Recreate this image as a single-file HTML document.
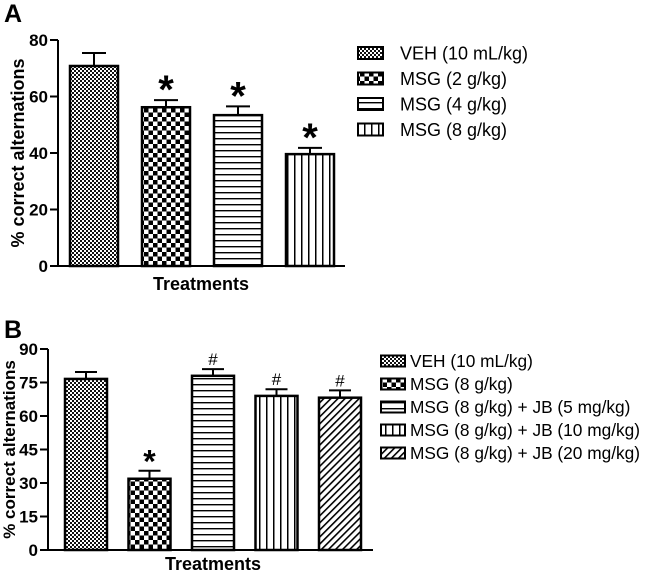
<!DOCTYPE html>
<html><head><meta charset="utf-8"><style>
html,body{margin:0;padding:0;background:#fff;}
svg{display:block;font-family:"Liberation Sans",Arial,sans-serif;}
</style></head><body>
<svg id="chart" width="646" height="577" viewBox="0 0 646 577">
<defs>
<pattern id="p0" width="4" height="4" patternUnits="userSpaceOnUse"><rect width="4" height="4" fill="#fff"/><rect width="2" height="2" fill="#111"/><rect x="2" y="2" width="2" height="2" fill="#111"/></pattern>
<pattern id="p1" width="9" height="9" patternUnits="userSpaceOnUse"><rect width="9" height="9" fill="#fff"/><rect width="4.5" height="4.5" fill="#000"/><rect x="4.5" y="4.5" width="4.5" height="4.5" fill="#000"/></pattern>
<pattern id="p2" width="6" height="6" patternUnits="userSpaceOnUse"><rect width="6" height="6" fill="#fff"/><rect y="0" width="6" height="1.4" fill="#000"/></pattern>
<pattern id="p3" width="7" height="7" patternUnits="userSpaceOnUse"><rect width="7" height="7" fill="#fff"/><rect x="0" width="1.5" height="7" fill="#000"/></pattern>
<pattern id="p4" width="5" height="5" patternUnits="userSpaceOnUse" patternTransform="rotate(45)"><rect width="5" height="5" fill="#fff"/><rect width="1.6" height="5" fill="#000"/></pattern>
</defs>
<text x="4" y="22" font-size="25" font-weight="bold">A</text>
<text x="4" y="338" font-size="25" font-weight="bold">B</text>
<g id="ga"></g><g id="gb"></g>
</svg>
<script>
const NS="http://www.w3.org/2000/svg";
// Panel A data
const catsA=["VEH (10 mL/kg)","MSG (2 g/kg)","MSG (4 g/kg)","MSG (8 g/kg)"];
const valsA=[70.8,56.2,53.4,39.6];
const errA=[4.6,2.5,3.1,2.2];
const sigA=["","*","*","*"];
const ticksA=[0,20,40,60,80];
// Panel B data
const catsB=["VEH (10 mL/kg)","MSG (8 g/kg)","MSG (8 g/kg) + JB (5 mg/kg)","MSG (8 g/kg) + JB (10 mg/kg)","MSG (8 g/kg) + JB (20 mg/kg)"];
const valsB=[76.6,31.9,78.0,69.0,68.2];
const errB=[3.1,3.6,3.0,3.0,3.3];
const sigB=["","*","#","#","#"];
const ticksB=[0,15,30,45,60,75,90];

function mk(p,tag,a,txt){const e=document.createElementNS(NS,tag);for(const k in a)e.setAttribute(k,a[k]);if(txt!==undefined)e.textContent=txt;p.appendChild(e);return e;}

function panel(g,o){
  const y=v=>o.y0-(v-0)/(o.max)*(o.y0-o.yTop);
  const ax=mk(g,'line',{x1:o.ax,y1:o.yTop,x2:o.ax,y2:o.y0+1,stroke:'#000','stroke-width':2});
  
  const xa=mk(g,'line',{x1:o.ax-1,y1:o.y0,x2:o.xEnd,y2:o.y0,stroke:'#000','stroke-width':2});
  
  o.ticks.forEach(t=>{
    const l=mk(g,'line',{x1:o.ax-8,y1:y(t),x2:o.ax,y2:y(t),stroke:'#000','stroke-width':2});
    
    const tx=mk(g,'text',{x:o.ax-10,y:y(t)+6,'text-anchor':'end','font-size':17,'font-weight':'bold'},t);
    
  });
  const yt=mk(g,'text',{x:0,y:0,transform:`translate(${o.titleX},${(o.yTop+o.y0)/2}) rotate(-90)`,'text-anchor':'middle','font-size':o.titleFs,'font-weight':'bold'},'% correct alternations');
  
  const xt=mk(g,'text',{x:o.xtX,y:o.xtY,'text-anchor':'middle','font-size':18,'font-weight':'bold'},'Treatments');
  
  o.vals.forEach((v,i)=>{
    const x0=o.x0+i*o.step, cx=x0+o.bw/2;
    const et=y(v+o.err[i]);
    const e1=mk(g,'line',{x1:cx,y1:y(v),x2:cx,y2:et,stroke:'#000','stroke-width':2});
    
    const e2=mk(g,'line',{x1:cx-o.cap,y1:et,x2:cx+o.cap,y2:et,stroke:'#000','stroke-width':2});
    
    const r=mk(g,'rect',{x:x0,y:y(v),width:o.bw,height:o.y0-y(v),fill:`url(#p${o.pat[i]})`,stroke:'#000','stroke-width':2.5});
    
    if(o.sig[i]){
      const star=o.sig[i]=='*';
      const s=mk(g,'text',{x:cx,y:star?et+o.starOff:et-4,'text-anchor':'middle','font-size':star?o.starSize:17,'font-weight':star?'bold':'normal'},o.sig[i]);
      
    }
  });
  o.cats.forEach((c,i)=>{
    const ly=o.ly+i*o.lstep;
    const sw=mk(g,'rect',{x:o.lx,y:ly-o.sh/2,width:o.sw,height:o.sh,fill:`url(#p${o.pat[i]})`,stroke:'#000','stroke-width':2});
    
    const t=mk(g,'text',{x:o.ltx,y:ly+o.lfs*0.36,'font-size':o.lfs},c);
    
  });
}
panel(document.getElementById('ga'),{vals:valsA,err:errA,sig:sigA,cats:catsA,ticks:ticksA,max:80,y0:266,yTop:40,ax:58,xEnd:345,
  x0:70,step:72,bw:48,cap:12,pat:[0,1,2,3],titleX:24,titleFs:18,xtX:201,xtY:290,starSize:40,starOff:3,
  lx:358,ly:53,lstep:25.5,sw:25,sh:12,ltx:400,lfs:18});
panel(document.getElementById('gb'),{vals:valsB,err:errB,sig:sigB,cats:catsB,ticks:ticksB,max:90,y0:550,yTop:349,ax:48,xEnd:373,
  x0:65,step:63.5,bw:42,cap:11,pat:[0,1,2,3,4],titleX:15,titleFs:17,xtX:213,xtY:570,starSize:32,starOff:2,
  lx:381,ly:361,lstep:23,sw:24,sh:11,ltx:410,lfs:17.3});
</script>
</body></html>
